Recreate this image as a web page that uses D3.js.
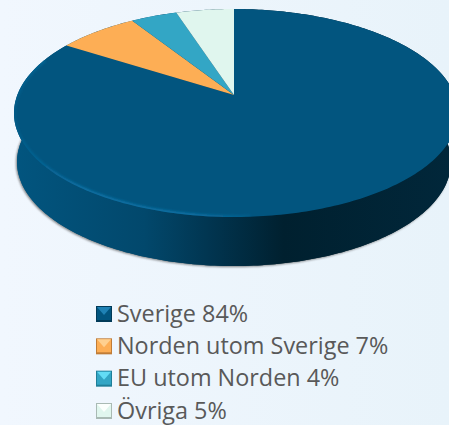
<!DOCTYPE html>
<html>
<head>
<meta charset="utf-8">
<script src="https://cdn.jsdelivr.net/npm/d3@7"></script>
<style>
  html, body { margin: 0; padding: 0; background: #edf5fd; }
  svg { display: block; }
  .legend text { font-family: "Open Sans", Lato, sans-serif; font-size: 23.4px; fill: #595959; }
</style>
</head>
<body>
<div id="chart"></div>
<script>
var categories = ["Sverige", "Norden utom Sverige", "EU utom Norden", "Övriga"];
var shares = [84, 7, 4, 5];
var colors = ["#02557f", "#fdae55", "#33a6c5", "#e0f6ee"];
var markerLight = ["#1f82b5", "#ffd08f", "#63dcf5", "#fbfffd"];
var markerDark = ["#013a58", "#c07c36", "#1f7f99", "#a9bab4"];

var width = 449;
var height = 425;

// centre of the disc seen in perspective
var apexX = 234;
var apexY = 95;
var spanX = 218.65;
var spanY = 100.9;
var tilt = 0.173;
var lean = 0.0091;
var lowerSpanX = 213.7;
var depth = 49;

function project(angle, sx, g, dy) {
  var u = Math.sin(angle);
  var v = Math.cos(angle);
  var w = 1 + tilt * v;
  return [apexX + sx * u * (1 + g * u) / w, apexY + dy - spanY * v / w];
}

function rim(a0, a1) {
  var n = Math.max(2, Math.ceil(Math.abs(a1 - a0) * 60));
  return d3.range(n + 1).map(function(i) {
    return project(a0 + (a1 - a0) * i / n, spanX, lean, 0);
  });
}

var svg = d3.select("#chart").append("svg")
  .attr("width", width)
  .attr("height", height);

var defs = svg.append("defs");

var bg = defs.append("linearGradient").attr("id", "bg");
bg.append("stop").attr("offset", "0").attr("stop-color", "#f1f7fe");
bg.append("stop").attr("offset", "1").attr("stop-color", "#e8f3fa");

var side = defs.append("linearGradient").attr("id", "side")
  .attr("gradientUnits", "userSpaceOnUse")
  .attr("x1", 14).attr("x2", 449).attr("y1", 0).attr("y2", 0);
[[0, "#02557f"], [0.3, "#02486c"], [0.45, "#013550"], [0.62, "#00202f"], [1, "#01273a"]].forEach(function(s) {
  side.append("stop").attr("offset", s[0]).attr("stop-color", s[1]);
});

// highlight fades out toward both ends of the edge
var glow = defs.append("linearGradient").attr("id", "glow")
  .attr("gradientUnits", "userSpaceOnUse")
  .attr("x1", 14).attr("x2", 270).attr("y1", 0).attr("y2", 0);
[[0, 0.25], [0.25, 1], [0.7, 1], [1, 0]].forEach(function(s) {
  glow.append("stop").attr("offset", s[0]).attr("stop-color", "#0b6fa3").attr("stop-opacity", s[1]);
});

var blur = defs.append("filter").attr("id", "soft")
  .attr("x", "-5%").attr("y", "-5%").attr("width", "110%").attr("height", "110%");
blur.append("feGaussianBlur").attr("stdDeviation", 1.3);

var rimBlur = defs.append("filter").attr("id", "rimsoft")
  .attr("x", "-5%").attr("y", "-5%").attr("width", "110%").attr("height", "110%");
rimBlur.append("feGaussianBlur").attr("stdDeviation", 0.8);

svg.append("rect").attr("width", width).attr("height", height).attr("fill", "url(#bg)");

var line = d3.line();
var pie = d3.pie().sort(null)(shares);
var whole = rim(0, 2 * Math.PI);
var lower = whole.map(function(p, i) {
  return project(2 * Math.PI * i / (whole.length - 1), lowerSpanX, 0, depth);
});

defs.append("clipPath").attr("id", "topface")
  .append("path").attr("d", line(whole) + "Z");

// soft shadow under the wall
svg.append("path")
  .attr("d", line(lower) + "Z")
  .attr("fill", "#444")
  .attr("opacity", 0.65)
  .attr("transform", "translate(-1,1)")
  .attr("filter", "url(#soft)");

// wall of the disc
svg.append("path")
  .attr("d", line(whole.concat(lower.slice().reverse())) + "Z")
  .attr("fill", "url(#side)");
svg.append("path")
  .attr("d", line(lower) + "Z")
  .attr("fill", "url(#side)");

// top face
svg.selectAll("path.slice")
  .data(pie).enter()
  .append("path")
  .attr("class", "slice")
  .attr("d", function(d) {
    return line([[apexX, apexY]].concat(rim(d.startAngle, d.endAngle))) + "Z";
  })
  .attr("fill", function(d, i) { return colors[i]; });

// bevel highlight along the lower left edge of the top
svg.append("g")
  .attr("clip-path", "url(#topface)")
  .append("path")
  .attr("d", line(rim(Math.PI * 0.98, Math.PI * 1.62)))
  .attr("fill", "none")
  .attr("stroke", "url(#glow)")
  .attr("stroke-width", 4)
  .attr("filter", "url(#rimsoft)");

var legend = svg.append("g").attr("class", "legend");
var legendY = d3.scalePoint().domain(categories).range([314, 411]);

var rows = legend.selectAll("g")
  .data(categories).enter()
  .append("g")
  .attr("transform", function(d) { return "translate(96," + legendY(d) + ")"; });

rows.append("rect")
  .attr("x", 0).attr("y", -8).attr("width", 16).attr("height", 16)
  .attr("fill", function(d, i) { return markerDark[i]; });
rows.append("rect")
  .attr("x", 1).attr("y", -7).attr("width", 14).attr("height", 13)
  .attr("fill", function(d, i) { return colors[i]; });
rows.append("path")
  .attr("d", "M1,-7H15L8,1Z")
  .attr("fill", function(d, i) { return markerLight[i]; });

rows.append("text")
  .attr("x", 21)
  .attr("y", 7.5)
  .text(function(d, i) { return d + " " + shares[i] + "%"; });
</script>
</body>
</html>
